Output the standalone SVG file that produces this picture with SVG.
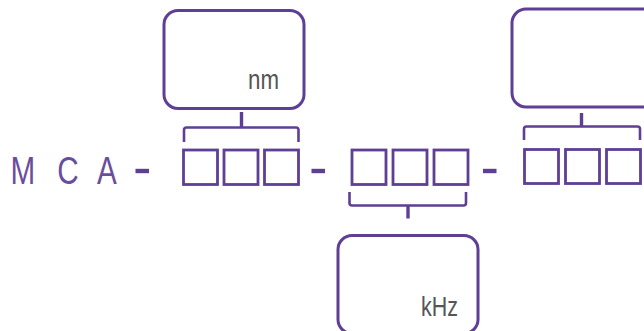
<svg xmlns="http://www.w3.org/2000/svg" width="644" height="331" viewBox="0 0 644 331">
<style>
.b{fill:#fff;stroke:#5e3f95;stroke-width:3}
.s{fill:none;stroke:#5e3f95;stroke-width:2.8}
.c{fill:none;stroke:#5e3f95;stroke-width:2.6}
.d{fill:none;stroke:#5e3f95;stroke-width:3.4}
.h{fill:none;stroke:#5e3f95;stroke-width:4.4}
.u{font-family:"Liberation Sans",Arial,sans-serif;fill:#555;font-size:27px}
.m{font-family:"Liberation Sans",Arial,sans-serif;fill:#6a4e9e;font-size:39px}
</style>
<rect width="644" height="331" fill="#fff"/>
<g id="connectors">
<path class="c" d="M184 142V130Q184 127.500 186.500 127.500H296Q298.500 127.500 298.500 130V142"/>
<path class="d" d="M241.500 112V127"/>
<path class="c" d="M524 140V129Q524 126.500 526.500 126.500H637.500Q640 126.500 640 129V140"/>
<path class="d" d="M581.500 113V126"/>
<path class="c" d="M349.500 192V203Q349.500 205.500 352 205.500H463.500Q466 205.500 466 203V192"/>
<path class="d" d="M408 205V218.500"/>
</g>
<g id="node-label"><text class="m" transform="scale(.76 1)" x="13.800 75.300 127.600" y="184">MCA</text></g>
<g id="node-dash-1"><path class="h" d="M135.500 171H149"/></g>
<g id="node-dash-2"><path class="h" d="M311.500 171H325"/></g>
<g id="node-dash-3"><path class="h" d="M483 171H496.500"/></g>
<g id="node-nm"><rect class="b" x="164" y="10.500" width="140" height="98" rx="14"/><text class="u" x="248" y="89" textLength="31" lengthAdjust="spacingAndGlyphs">nm</text></g>
<g id="node-right"><rect class="b" x="512" y="9" width="146" height="98" rx="14"/></g>
<g id="node-khz"><rect class="b" x="338" y="235.500" width="140" height="98" rx="14"/><text class="u" x="421" y="316" textLength="37" lengthAdjust="spacingAndGlyphs">kHz</text></g>
<g id="node-group-1"><rect class="s" x="183.500" y="150" width="34" height="34.500"/><rect class="s" x="224" y="150" width="34" height="34.500"/><rect class="s" x="264.500" y="150" width="34" height="34.500"/></g>
<g id="node-group-2"><rect class="s" x="352" y="150" width="34" height="34.500"/><rect class="s" x="393" y="150" width="34" height="34.500"/><rect class="s" x="434" y="150" width="34" height="34.500"/></g>
<g id="node-group-3"><rect class="s" x="524.500" y="149.500" width="34" height="34"/><rect class="s" x="565.500" y="149.500" width="34" height="34"/><rect class="s" x="606.500" y="149.500" width="34" height="34"/></g>
</svg>
